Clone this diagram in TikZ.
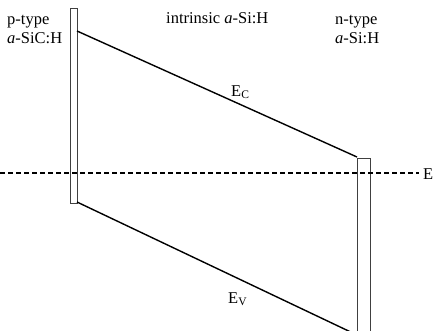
\documentclass[tikz,border=0pt]{standalone}
\usepackage{fontspec}
\setmainfont{Liberation Serif}
\usetikzlibrary{positioning, calc}

\begin{document}
\begin{tikzpicture}[
        x=1pt, y=-1pt,
        layer/.style={draw=black!75, line width=0.8pt},
        band/.style={line width=1.4pt, black},
        fermi/.style={line width=1.1pt, black, dash pattern=on 5pt off 3pt},
        lbl/.style={font=\fontsize{16.5}{19}\selectfont, inner sep=0pt},
    ]
    \clip (0,0) rectangle (435,330);
    % p-layer and n-layer walls
    \draw[layer] (70,203) -- (70,8) -- (77,8) -- (77,203) -- cycle;
    \draw[layer] (357,340) -- (357,158) -- (370,158) -- (370,340);
    % band edges
    \coordinate (cl) at (77,31);
    \coordinate (cr) at (357,157);
    \coordinate (vl) at (77,202);
    \coordinate (vr) at (357,335);
    \draw[band] (cl) -- (cr);
    \draw[band] (vl) -- (vr);
    % Fermi level
    \coordinate (fl) at (0,173);
    \node[lbl, anchor=base west] at (423,179) (ef) {E};
    \draw[fermi] (fl) -- ([xshift=-4pt]fl -| ef.west);
    \node[lbl, anchor=base west] at (231,96) (ec) {E\textsubscript{C}};
    \node[lbl, anchor=base west] at (228,303) (ev) {E\textsubscript{V}};
    % layer names
    \node[lbl, anchor=base west] at (7,24) (ptype) {p-type};
    \node[lbl, anchor=base west] at (7,43) (pmat) {\textit{a}-SiC:H};
    \node[lbl, anchor=base west] at (166,23) (imat) {intrinsic \textit{a}-Si:H};
    \node[lbl, anchor=base west] at (335,24) (ntype) {n-type};
    \node[lbl, anchor=base west] at (335,43) (nmat) {\textit{a}-Si:H};
\end{tikzpicture}
\end{document}
